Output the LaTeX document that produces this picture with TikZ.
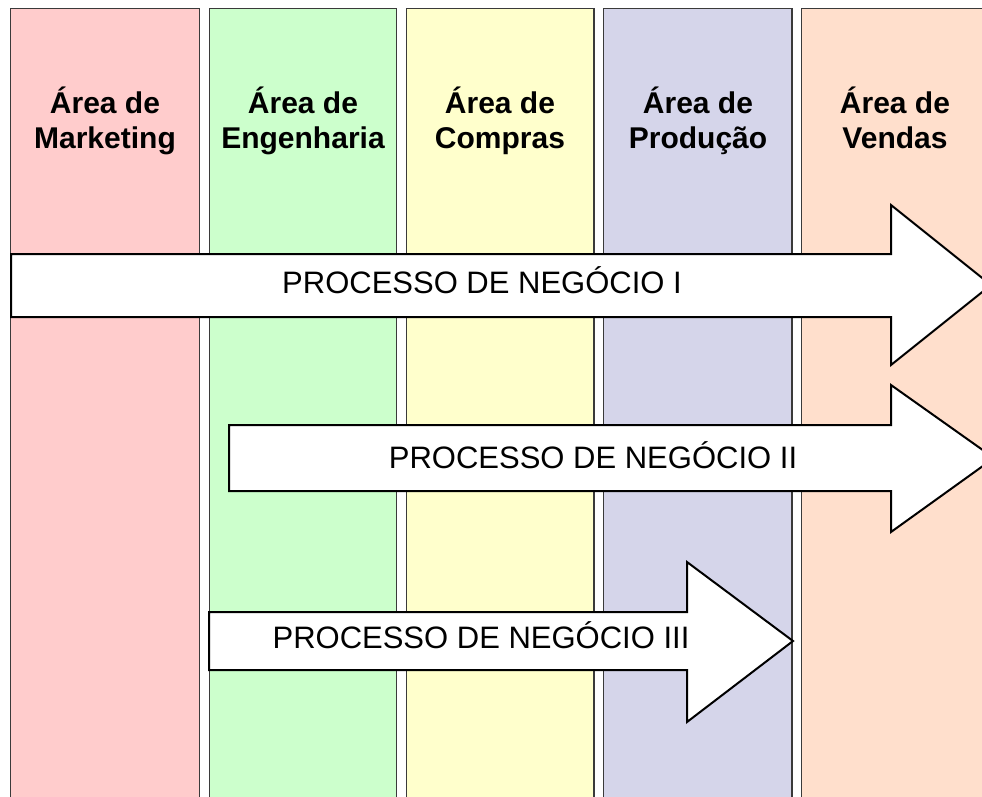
\documentclass[tikz,border=0pt]{standalone}
\usepackage{fontspec}
\setmainfont{Liberation Sans}
\usepackage{tikz}
\usepackage{xcolor}
\usetikzlibrary{positioning}

\definecolor{mktfill}{HTML}{FFCCCC}
\definecolor{engfill}{HTML}{CCFFCC}
\definecolor{cmpfill}{HTML}{FFFFCC}
\definecolor{prdfill}{HTML}{D5D5EA}
\definecolor{vndfill}{HTML}{FFDFCC}
\definecolor{areaborder}{HTML}{3A3A3A}

\begin{document}
\begin{tikzpicture}[x=1pt,y=-1pt]
\tikzstyle{area}=[draw=areaborder, line width=1.2pt]
\tikzstyle{process}=[draw=black, fill=white, line width=2pt, line join=miter]
\tikzstyle{areatitle}=[font=\fontsize{30}{35}\selectfont\bfseries, align=center, inner sep=0pt]
\tikzstyle{proclabel}=[font=\fontsize{31}{35}\selectfont, inner sep=0pt, anchor=base]
\useasboundingbox (0,0) rectangle (982,796);
\clip (0,0) rectangle (982,796);
\fill [white] (0,0) rectangle (982,796);
% areas
\draw [area, fill=mktfill] (10.5,8.5) rectangle (199.5,810);
\draw [area, fill=engfill] (209.5,8.5) rectangle (396.5,810);
\draw [area, fill=cmpfill] (406.5,8.5) rectangle (594,810);
\draw [area, fill=prdfill] (603.5,8.5) rectangle (792,810);
\draw [area, fill=vndfill] (801.5,8.5) rectangle (995,810);
\node [areatitle, anchor=base] (mkt) at (105,148) {Área de\\Marketing};
\node [areatitle, anchor=base] (eng) at (303,148) {Área de\\Engenharia};
\node [areatitle, anchor=base] (cmp) at (500,148) {Área de\\Compras};
\node [areatitle, anchor=base] (prd) at (698,148) {Área de\\Produção};
\node [areatitle, anchor=base] (vnd) at (895,148) {Área de\\Vendas};
% processes
\draw [process] (11,254) -- (891,254) -- (891,205) -- (991,285) -- (891,365) -- (891,317) -- (11,317) -- cycle;
\node [proclabel] (proc1) at (482,293) {PROCESSO DE NEGÓCIO I};
\draw [process] (229,425) -- (891,425) -- (891,385) -- (994,458) -- (891,532) -- (891,491) -- (229,491) -- cycle;
\node [proclabel] (proc2) at (593,468) {PROCESSO DE NEGÓCIO II};
\draw [process] (209,612) -- (687,612) -- (687,562) -- (793,641) -- (687,722) -- (687,670) -- (209,670) -- cycle;
\node [proclabel] (proc3) at (481,648) {PROCESSO DE NEGÓCIO III};
\end{tikzpicture}
\end{document}
